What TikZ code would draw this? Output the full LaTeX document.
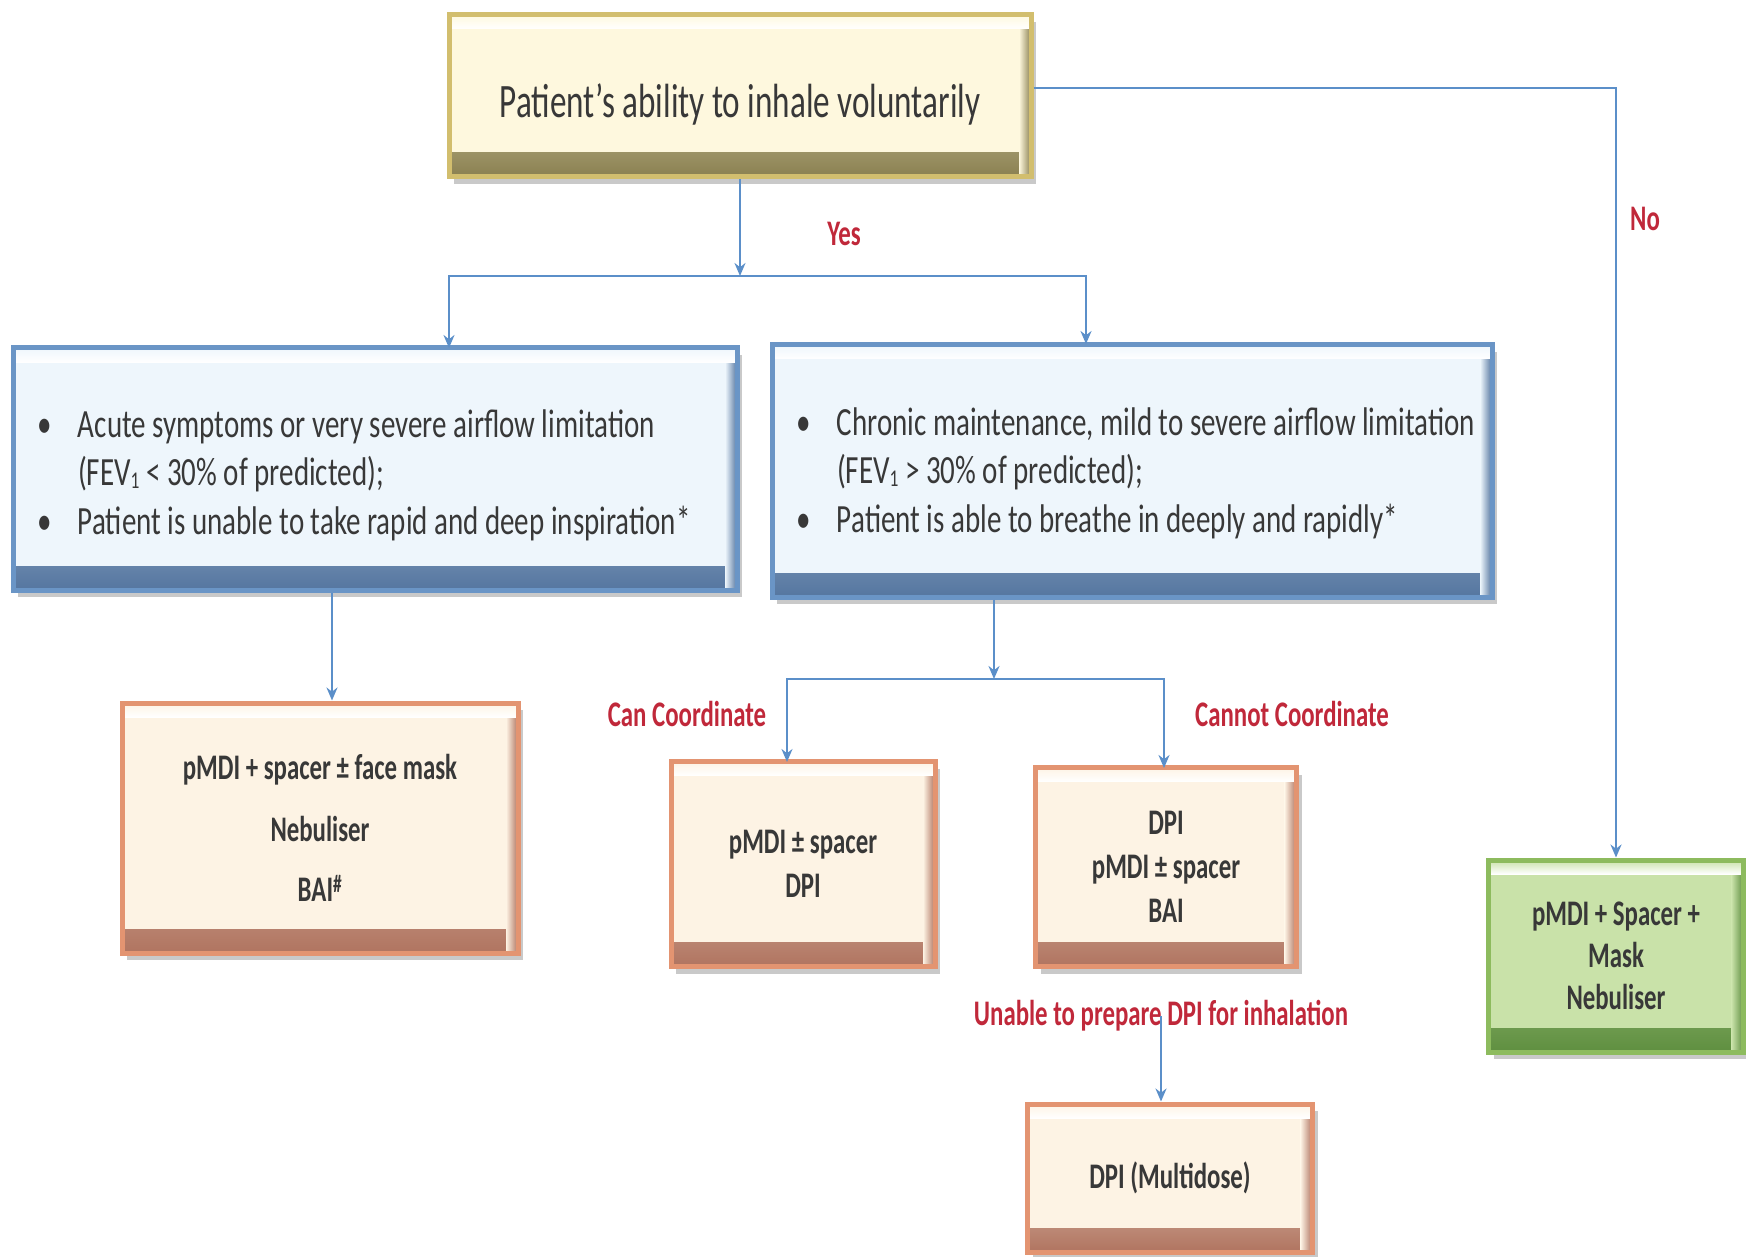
\documentclass[tikz,border=0pt]{standalone}
\usepackage{fontspec}
\setmainfont{Carlito}[FakeStretch=0.69]
\newfontfamily\bluefont{Carlito}[FakeStretch=0.725]
\usetikzlibrary{shadows,arrows.meta,calc}
\definecolor{conn}{HTML}{5B8FC9}
\definecolor{redlab}{HTML}{C0283A}
\definecolor{txt}{HTML}{383838}
\definecolor{yfill}{HTML}{FEF8DE}
\definecolor{ybord}{HTML}{D2BE6E}
\definecolor{ydark}{HTML}{8A8050}
\definecolor{bfill}{HTML}{EEF6FC}
\definecolor{bbord}{HTML}{6A95C6}
\definecolor{bdark}{HTML}{5576A0}
\definecolor{ofill}{HTML}{FDF3E4}
\definecolor{obord}{HTML}{E39471}
\definecolor{odark}{HTML}{B07460}
\definecolor{gfill}{HTML}{C9E2A9}
\definecolor{gbord}{HTML}{8DBB5E}
\definecolor{gdark}{HTML}{5F8F40}
\tikzset{
  bevel/.style n args={3}{draw=#2, fill=#1, line width=5pt, rectangle,
    drop shadow={shadow xshift=5pt, shadow yshift=-7pt, opacity=0.3, fill=black!70},
    path picture={
      \shade[top color=#1, bottom color=#3]
        ([yshift=24pt]path picture bounding box.south west) rectangle (path picture bounding box.south east);
      \shade[left color=#1, right color=#3]
        ([xshift=-12pt]path picture bounding box.north east) rectangle (path picture bounding box.south east);
      \shade[top color=#1, bottom color=white]
        ([yshift=-14pt]path picture bounding box.north west) rectangle (path picture bounding box.north east);
    }},
  topbox/.style={bevel={yfill}{ybord}{ydark}, text=txt, font=\fontsize{48}{58}\selectfont},
  bluebox/.style={bevel={bfill}{bbord}{bdark}, text=txt, font=\bluefont\fontsize{40}{48.5}\selectfont,
    align=left, inner xsep=24pt},
  orgbox/.style={bevel={ofill}{obord}{odark}, text=txt, font=\bfseries\fontsize{36}{44}\selectfont, align=center},
  grnbox/.style={bevel={gfill}{gbord}{gdark}, text=txt, font=\bfseries\fontsize{36}{42}\selectfont, align=center},
  lab/.style={text=redlab, font=\bfseries\fontsize{36}{42}\selectfont, inner sep=0pt},
  arr/.style={draw=conn, line width=2.5pt, -{Stealth[length=13pt,width=11pt]}},
}
\newcommand{\subone}{\raisebox{-3pt}{\fontsize{24}{24}\selectfont 1}}
\begin{document}
\begin{tikzpicture}[x=1pt,y=-1pt]
\useasboundingbox (0,0) rectangle (1746,1257);
% boxes
\node[topbox, minimum width=582pt, minimum height=162pt, text height=50pt] (top) at (740,96) {Patient’s ability to inhale voluntarily};
\node[bluebox, text width=676pt, minimum height=242pt] (lb) at (375,469)
  {\spaceskip=0pt\xspaceskip=0pt
   \begin{tabular}{@{}p{41pt}@{}l@{}}
   \rule{0pt}{48pt}• & Acute symptoms or very severe airflow limitation\\
     & (FEV\subone\,< 30\% of predicted);\\
   • & Patient is unable to take rapid and deep inspiration*
   \end{tabular}};
\node[bluebox, text width=672pt, minimum height=252pt] (rb) at (1132,471)
  {\spaceskip=0pt\xspaceskip=0pt
   \begin{tabular}{@{}p{41pt}@{}l@{}}
   \rule{0pt}{40pt}• & Chronic maintenance, mild to severe airflow limitation\\
     & (FEV\subone\,> 30\% of predicted);\\
   • & Patient is able to breathe in deeply and rapidly*
   \end{tabular}};
\node[orgbox, minimum width=396pt, minimum height=250pt] (lo) at (320,828)
  {pMDI + spacer ± face mask\\[18pt] Nebuliser\\[16pt] BAI\textsuperscript{\#}};
\node[orgbox, minimum width=264pt, minimum height=205pt] (mo) at (803,864)
  {pMDI ± spacer\\ DPI};
\node[orgbox, minimum width=261pt, minimum height=199pt] (ro) at (1166,867)
  {DPI\\ pMDI ± spacer\\ BAI};
\node[orgbox, minimum width=285pt, minimum height=148pt] (multi) at (1170,1178)
  {DPI (Multidose)};
\node[grnbox, minimum width=255pt, minimum height=192pt] (grn) at (1616,956)
  {pMDI + Spacer +\\ Mask\\ Nebuliser};
% junction coordinates
\coordinate (j1) at (740,276);
\coordinate (lbin) at (449,348);
\coordinate (rbin) at (1086,344);
\coordinate (j2) at (994,679);
\coordinate (moin) at (787,762);
\coordinate (roin) at (1164,768);
% labels
\node[lab] (yes) at (844,234) {Yes};
\node[lab] (no) at (1645,219) {No};
\node[lab] (can) at (687,714) {Can Coordinate};
\node[lab] (cannot) at (1292,714) {Cannot Coordinate};
% connectors
\draw[arr] (top.south) -- (j1);
\draw[arr] (j1) -| (lbin);
\draw[arr] (j1) -| (rbin);
\draw[arr] ([yshift=8pt]top.east) -| (grn.north);
\draw[arr] ([xshift=12pt]lo.north |- lb.south) -- ([xshift=12pt]lo.north);
\draw[arr] (j2 |- rb.south) -- (j2);
\draw[arr] (j2) -| (moin);
\draw[arr] (j2) -| (roin);
\node[lab] (unable) at (1161,1016) {Unable to prepare DPI for inhalation};
\draw[arr] (unable.center) -- (unable.center |- multi.north);
\end{tikzpicture}
\end{document}
